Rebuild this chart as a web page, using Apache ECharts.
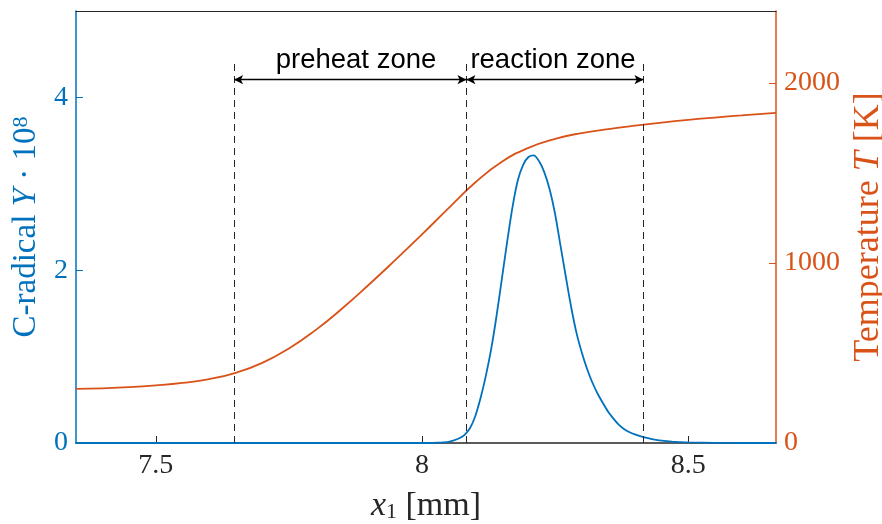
<!DOCTYPE html>
<html><head><meta charset="utf-8">
<script src="https://cdn.jsdelivr.net/npm/echarts@6/dist/echarts.min.js"></script>
<style>html,body{margin:0;padding:0;background:#fff}#c{width:882px;height:524px}</style>
</head><body><div id="c"></div>
<script>
// ---- data ----
const xTicks = [7.5, 8, 8.5];
const yLeftTicks = [0, 2, 4];
const yRightTicks = [0, 1000, 2000];

const tempX = [7.35, 7.40, 7.45, 7.50, 7.55, 7.60, 7.65, 7.70, 7.75, 7.80, 7.85, 7.90, 7.95, 8.00,
               8.05, 8.10, 8.15, 8.20, 8.25, 8.30, 8.35, 8.40, 8.45, 8.50, 8.55, 8.60, 8.665];
const tempK = [301, 304, 310, 320, 334, 355, 390, 445, 525, 627, 747, 879, 1017, 1159,
               1305, 1447, 1562, 1640, 1690, 1722, 1744, 1763, 1780, 1795, 1808, 1820, 1834];

const radX = [7.35, 7.90, 8.00, 8.01, 8.02, 8.03, 8.04, 8.05, 8.06, 8.07, 8.08, 8.09,
              8.10, 8.11, 8.12, 8.13, 8.14, 8.15, 8.16, 8.17, 8.18, 8.19,
              8.20, 8.21, 8.22, 8.23, 8.24, 8.25, 8.26, 8.27, 8.28, 8.29,
              8.30, 8.31, 8.32, 8.33, 8.34, 8.35, 8.36, 8.37, 8.38, 8.39,
              8.40, 8.41, 8.42, 8.43, 8.44, 8.45, 8.46, 8.47, 8.48, 8.49,
              8.50, 8.55, 8.60, 8.665];
const radY = [0, 0, 0, 0, 0.001, 0.003, 0.007, 0.014, 0.03, 0.055, 0.095, 0.17,
              0.31, 0.52, 0.78, 1.09, 1.47, 1.90, 2.33, 2.73, 3.04, 3.22,
              3.31, 3.33, 3.26, 3.13, 2.93, 2.65, 2.29, 1.93, 1.58, 1.28,
              1.05, 0.86, 0.70, 0.57, 0.46, 0.36, 0.28, 0.21, 0.16, 0.125,
              0.10, 0.08, 0.062, 0.048, 0.037, 0.028, 0.021, 0.016, 0.012, 0.009,
              0.007, 0.002, 0, 0];

const zoneBounds = [7.647, 8.0835, 8.416];
const zoneLabels = ['preheat zone', 'reaction zone'];
const zoneLabelX = [7.876, 8.246];
const zoneLabelY = 4.425;
const arrowY = 4.205;
const dashTop = 4.39;

// ---- styling ----
const BLUE = '#0072BD', ORANGE = '#D95319', DARK = '#262626';
const SERIF = "'Liberation Serif', 'DejaVu Serif', serif";
const SANS = "'Liberation Sans', Arial, Helvetica, sans-serif";

const tempData = tempX.map((x, i) => [x, tempK[i]]);
const radData = radX.map((x, i) => [x, radY[i]]);

const dashLines = zoneBounds.map(b => [{coord: [b, 0]}, {coord: [b, dashTop]}]);
const arrowLines = [];
for (let i = 0; i < zoneBounds.length - 1; i++) {
  arrowLines.push([{coord: [zoneBounds[i], arrowY]}, {coord: [zoneBounds[i + 1], arrowY]}]);
}

const chart = echarts.init(document.getElementById('c'), null, {renderer: 'canvas'});
chart.setOption({
  animation: false,
  backgroundColor: '#fff',
  grid: {left: 76, right: 106, top: 11, bottom: 81, containLabel: false, outerBoundsMode: 'none'},
  xAxis: [{
    type: 'value', min: 7.35, max: 8.665, position: 'bottom',
    axisLine: {show: true, onZero: false, lineStyle: {color: DARK, width: 1.5}},
    axisTick: {show: true, inside: true, length: 7, customValues: xTicks, lineStyle: {color: DARK, width: 1}},
    axisLabel: {show: true, customValues: xTicks, margin: 9, color: DARK, fontFamily: SERIF, fontSize: 28,
      formatter: v => String(v)},
    splitLine: {show: false},
    name: '{i|x}{s|1}{r| [mm]}', nameLocation: 'middle', nameGap: 46,
    nameTextStyle: {color: DARK, rich: {
      i: {fontFamily: SERIF, fontStyle: 'italic', fontSize: 34, lineHeight: 34, color: DARK},
      s: {fontFamily: SERIF, fontSize: 22, lineHeight: 22, verticalAlign: 'bottom', color: DARK},
      r: {fontFamily: SERIF, fontSize: 34, lineHeight: 34, color: DARK}
    }}
  }, {
    type: 'value', min: 7.35, max: 8.665, position: 'top',
    axisLine: {show: true, onZero: false, lineStyle: {color: DARK, width: 1.2}},
    axisTick: {show: false}, axisLabel: {show: false}, splitLine: {show: false}
  }],
  yAxis: [{
    type: 'value', min: 0, max: 5, position: 'left',
    axisLine: {show: true, onZero: false, lineStyle: {color: BLUE, width: 1.5}},
    axisTick: {show: true, inside: true, length: 7, customValues: yLeftTicks, lineStyle: {color: BLUE, width: 1}},
    axisLabel: {show: true, customValues: yLeftTicks, margin: 8, color: BLUE, fontFamily: SERIF, fontSize: 28,
      formatter: v => String(v)},
    splitLine: {show: false},
    name: '{r|C-radical }{i|Y}{r| · 10}{p|8}', nameLocation: 'middle', nameGap: 21, nameRotate: 90,
    nameTextStyle: {color: BLUE, rich: {
      r: {fontFamily: SERIF, fontSize: 33, lineHeight: 33, color: BLUE},
      i: {fontFamily: SERIF, fontStyle: 'italic', fontSize: 33, lineHeight: 33, color: BLUE},
      p: {fontFamily: SERIF, fontSize: 22, lineHeight: 22, verticalAlign: 'top', color: BLUE}
    }}
  }, {
    type: 'value', min: 0, max: 2400, position: 'right',
    axisLine: {show: true, onZero: false, lineStyle: {color: ORANGE, width: 1.5}},
    axisTick: {show: true, inside: true, length: 7, customValues: yRightTicks, lineStyle: {color: ORANGE, width: 1}},
    axisLabel: {show: true, customValues: yRightTicks, margin: 8, color: ORANGE, fontFamily: SERIF, fontSize: 28,
      formatter: v => String(v)},
    splitLine: {show: false},
    name: '{r|Temperature }{i|T}{r| [K]}', nameLocation: 'middle', nameGap: 56, nameRotate: 90,
    nameTextStyle: {color: ORANGE, rich: {
      r: {fontFamily: SERIF, fontSize: 36, lineHeight: 36, color: ORANGE},
      i: {fontFamily: SERIF, fontStyle: 'italic', fontSize: 36, lineHeight: 36, color: ORANGE}
    }}
  }],
  series: [{
    name: 'T', type: 'line', xAxisIndex: 0, yAxisIndex: 1, data: tempData,
    showSymbol: false, smooth: 0.5, lineStyle: {color: ORANGE, width: 1.8}, z: 3
  }, {
    name: 'Y', type: 'line', xAxisIndex: 0, yAxisIndex: 0, data: radData,
    showSymbol: false, smooth: 0.3, lineStyle: {color: BLUE, width: 1.8}, z: 4,
    markLine: {
      silent: true, animation: false, symbol: ['none', 'none'],
      lineStyle: {type: [7, 5], color: DARK, width: 1},
      label: {show: false},
      data: dashLines
    },
    markPoint: {
      silent: true, animation: false, symbol: 'circle', symbolSize: 0,
      itemStyle: {color: 'rgba(0,0,0,0)'},
      label: {show: true, position: 'inside', color: '#000', fontFamily: SANS, fontSize: 27.5,
        formatter: p => p.name},
      data: zoneLabels.map((t, i) => ({name: t, coord: [zoneLabelX[i], zoneLabelY]}))
    }
  }, {
    name: 'zones', type: 'line', xAxisIndex: 0, yAxisIndex: 0, data: [],
    markLine: {
      silent: true, animation: false, symbol: ['arrow', 'arrow'], symbolSize: [7, 9],
      lineStyle: {type: 'solid', color: '#000', width: 1.3},
      itemStyle: {color: '#000'},
      label: {show: false},
      data: arrowLines
    }
  }]
});
</script>
</body></html>
